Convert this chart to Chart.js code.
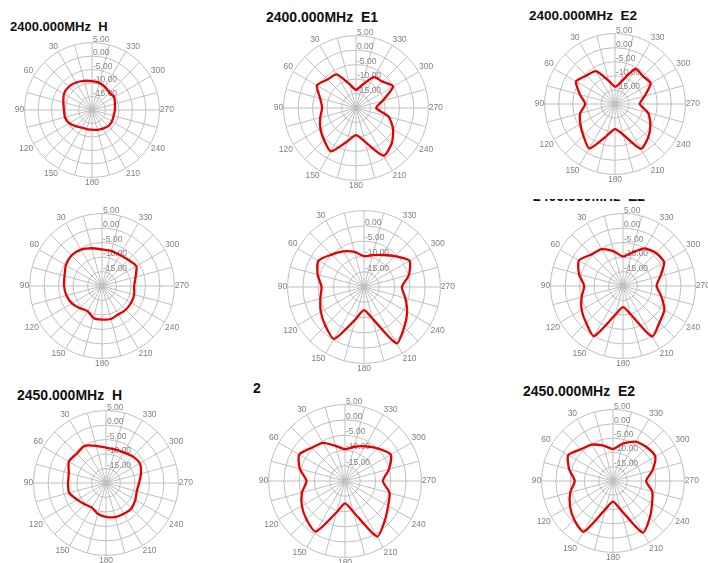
<!DOCTYPE html>
<html lang="en">
<head>
<meta charset="UTF-8">
<title>2400 / 2450 MHz patterns</title>
<script src="https://cdn.jsdelivr.net/npm/chart.js"></script>
<style>
    html, body {
        margin: 0;
        padding: 0;
        width: 708px;
        height: 563px;
        overflow: hidden;
        background: #fff;
        position: relative;
        font-family: Arial, 'Liberation Sans', sans-serif;
    }
    canvas { position: absolute; }
    .title {
        position: absolute;
        font-weight: bold;
        color: #111;
        white-space: pre;
        line-height: 1;
    }
    .cut { position: absolute; overflow: hidden; }
</style>
</head>
<body>

<div class="title" style="left:10px; top:20px; font-size:13px;">2400.000MHz  H</div>
<div class="title" style="left:266px; top:10px; font-size:14px;">2400.000MHz  E1</div>
<div class="title" style="left:529px; top:9px; font-size:13.5px;">2400.000MHz  E2</div>
<div class="cut" style="left:533px; top:199px; width:120px; height:2px;">
    <div class="title" style="left:0; top:-10px; font-size:14px;">2400.000MHz  E2</div>
</div>
<div class="title" style="left:17px; top:388px; font-size:14px;">2450.000MHz  H</div>
<div class="title" style="left:253px; top:381px; font-size:14px;">2</div>
<div class="title" style="left:523px; top:384px; font-size:14px;">2450.000MHz  E2</div>

<script>
    // angles in degrees, counter-clockwise from the top (as labelled on the plots)
    const angles = [0, 15, 30, 45, 60, 75, 90, 105, 120, 135, 150, 165,
                    180, 195, 210, 225, 240, 255, 270, 285, 300, 315, 330, 345];

    // gain in dB at each angle above
    const h2400a  = [-9.3, -8.8, -8.2, -7.8, -8.0, -9.0, -9.6, -9.6, -10.2, -11.5, -12.4, -12.7,
                     -12.7, -12.4, -12.0, -11.5, -11.5, -11.7, -11.5, -11.2, -10.5, -10.9, -10.2, -9.6];
    const e1_2400a = [-13.7, -11.5, -6.6, -6.1, -4.4, -7.2, -8.3, -7.2, -5.8, -4.4, -2.7, -8.0,
                      -10.6, -7.9, -1.0, -2.6, -5.2, -8.3, -13.0, -10.5, -5.2, -7.1, -7.7, -11.8];
    const e2_2400a = [-13.9, -11.5, -6.5, -5.7, -4.0, -7.1, -9.4, -7.2, -5.8, -4.1, -1.8, -8.2,
                      -11.1, -8.7, -1.6, -3.3, -5.5, -7.8, -11.2, -9.1, -5.4, -6.0, -5.6, -11.9];

    const h2400b  = [-7.4, -6.5, -5.5, -5.1, -5.6, -6.6, -6.9, -7.3, -8.0, -9.2, -10.0, -8.6,
                     -8.4, -8.2, -8.7, -8.4, -8.4, -8.5, -8.9, -8.0, -6.3, -7.2, -7.6, -7.5];
    const e1_2400b = [-9.9, -8.1, -6.5, -5.0, -2.8, -4.3, -6.1, -5.2, -3.7, -2.1, -0.4, -9.0,
                      -12.4, -9.3, 1.3, -1.4, -3.7, -6.0, -7.6, -4.8, -2.8, -5.7, -7.9, -9.2];
    const e2_2400b = [-9.8, -7.6, -5.3, -4.6, -2.4, -4.3, -6.6, -5.2, -3.5, -2.0, 0.0, -9.7,
                      -12.7, -9.9, 0.1, -2.2, -3.5, -6.3, -8.4, -6.6, -3.6, -3.9, -5.0, -8.1];

    const h2450  = [-7.8, -6.7, -5.2, -5.7, -5.2, -6.7, -6.9, -6.8, -8.5, -9.6, -10.2, -9.0,
                    -8.3, -7.8, -7.7, -7.6, -8.3, -9.0, -8.6, -7.5, -6.5, -7.0, -7.8, -8.0];
    const e1_2450 = [-9.6, -8.1, -5.6, -4.6, -2.7, -4.7, -7.4, -5.4, -3.7, -2.2, -0.9, -9.4,
                     -12.7, -9.6, 1.0, -1.6, -3.7, -4.9, -7.6, -5.1, -2.7, -4.9, -6.9, -8.4];
    const e2_2450 = [-8.8, -7.2, -5.3, -4.2, -1.9, -4.1, -6.6, -4.5, -2.6, -0.8, 0.5, -9.8,
                     -12.8, -9.6, 0.9, -1.8, -4.2, -5.8, -8.4, -5.7, -2.9, -3.3, -4.1, -6.4];

    // radial axis: centre -20 dB, outer ring +5 dB
    const rMin = -20, rMax = 5, rStep = 5;

    // where each plot sits on the page: centre and outer radius
    const panels = [
        { data: h2400a,   cx: 92,  cy: 110, r: 68 },
        { data: e1_2400a, cx: 356, cy: 108, r: 73 },
        { data: e2_2400a, cx: 615, cy: 104, r: 71 },
        { data: h2400b,   cx: 102, cy: 286, r: 73 },
        { data: e1_2400b, cx: 364, cy: 287, r: 77, hideTop: true },
        { data: e2_2400b, cx: 623, cy: 286, r: 73 },
        { data: h2450,    cx: 106, cy: 483, r: 73 },
        { data: e1_2450,  cx: 345, cy: 481, r: 77 },
        { data: e2_2450,  cx: 613, cy: 481, r: 72 }
    ];

    // Chart.js runs clockwise from the top, the plots run counter-clockwise
    const order = [0].concat(angles.map((a, i) => i).slice(1).reverse());

    const ringLabels = {
        id: 'ringLabels',
        beforeDatasetsDraw(chart, args, opts) {
            const s = chart.scales.r;
            const ctx = chart.ctx;
            ctx.save();
            ctx.font = '8.5px Arial, "Liberation Sans", sans-serif';
            ctx.fillStyle = '#858585';
            ctx.textAlign = 'left';
            ctx.textBaseline = 'alphabetic';
            s.ticks.forEach(t => {
                if (t.value <= s.min) return;
                if (opts.hideTop && t.value === s.max) return;
                const d = s.getDistanceFromCenterForValue(t.value);
                ctx.fillText(t.value.toFixed(2), s.xCenter + 1, s.yCenter - d - 1);
            });
            ctx.restore();
        }
    };

    panels.forEach(p => {
        const h = 2 * (p.r + 10);
        const w = h + 50;
        const cv = document.createElement('canvas');
        cv.width = w;
        cv.height = h;
        cv.style.left = (p.cx - w / 2) + 'px';
        cv.style.top = (p.cy - h / 2) + 'px';
        document.body.appendChild(cv);

        new Chart(cv, {
            type: 'radar',
            data: {
                labels: order.map(i => angles[i]),
                datasets: [{
                    data: order.map(i => p.data[i]),
                    borderColor: '#e80000',
                    borderWidth: 2.3,
                    pointRadius: 0,
                    fill: false,
                    tension: 0.22
                }]
            },
            options: {
                responsive: false,
                animation: false,
                plugins: {
                    legend: { display: false },
                    tooltip: { enabled: false },
                    ringLabels: { hideTop: !!p.hideTop }
                },
                scales: {
                    r: {
                        min: rMin,
                        max: rMax,
                        ticks: { display: false, stepSize: rStep },
                        grid: { color: '#bfbfbf', lineWidth: 1, circular: true },
                        angleLines: { color: '#bfbfbf', lineWidth: 1 },
                        pointLabels: {
                            color: '#808080',
                            padding: 0.4,
                            font: { size: 8.5, family: 'Arial, "Liberation Sans", sans-serif' },
                            callback: v => (v % 30 === 0 && v !== 0) ? String(v) : ''
                        }
                    }
                }
            },
            plugins: [ringLabels]
        });
    });
</script>
</body>
</html>
